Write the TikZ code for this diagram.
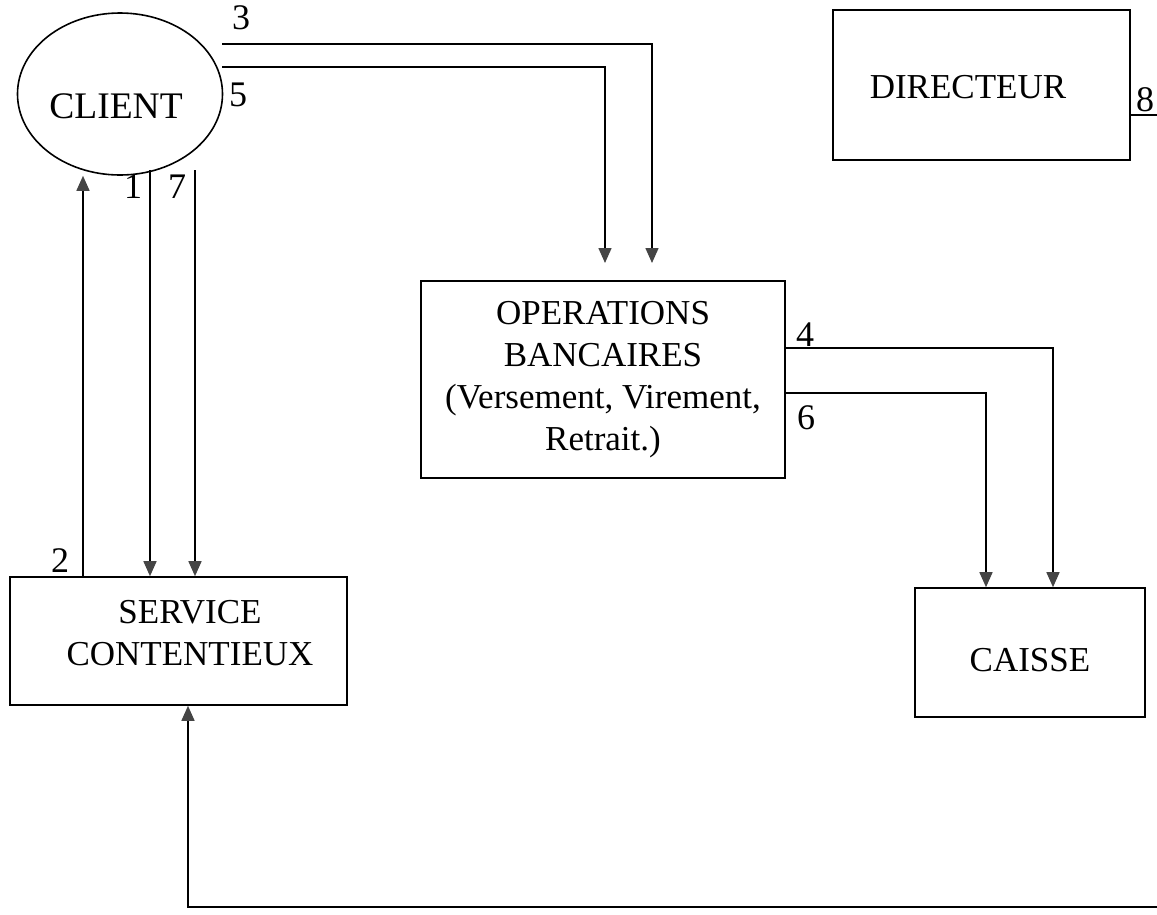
\documentclass[tikz,border=0pt]{standalone}
\usepackage{fontspec}
\setmainfont{Liberation Serif}
\usetikzlibrary{arrows.meta,shapes.geometric}
\definecolor{tipgray}{HTML}{454545}
\begin{document}
\begin{tikzpicture}[x=1pt,y=-1pt,
  every node/.style={font=\fontsize{35}{42}\selectfont},
  box/.style={draw,line width=1.6pt,rectangle,inner sep=0pt},
  txt/.style={inner sep=0pt,align=center},
  num/.style={inner sep=0pt,font=\fontsize{36}{42}\selectfont},
  flow/.style={line width=1.5pt,-{Triangle[width=13pt,length=15pt,color=tipgray]}},
  link/.style={line width=1.5pt}]
\useasboundingbox (0,0) rectangle (1157,914);

% entities
\node[draw,ellipse,line width=1.6pt,minimum width=205pt,minimum height=162pt] (client) at (120,94) {};
\node[txt,font=\fontsize{37.5}{42}\selectfont] (clientT) at (116,106) {CLIENT};

\node[box,minimum width=297pt,minimum height=150pt] (dir) at (981.5,85) {};
\node[txt] (dirT) at (968,87) {DIRECTEUR};

\node[box,minimum width=364pt,minimum height=197pt,align=center] (ops) at (603,379.5)
  {OPERATIONS\\BANCAIRES\\(Versement, Virement,\\Retrait.)};

\node[box,minimum width=337pt,minimum height=128pt] (serv) at (178.5,641) {};
\node[txt] (servT) at (190,633) {SERVICE\\CONTENTIEUX};

\node[box,minimum width=230pt,minimum height=129pt] (caisse) at (1030,652.5) {};
\node[txt] (caisseT) at (1030,660) {CAISSE};

% free ends of the flows
\coordinate (c3) at (222,44);
\coordinate (c5) at (222,67);
\coordinate (e3) at (652,263);
\coordinate (e5) at (605,263);
\coordinate (c1) at (150,170);
\coordinate (c7) at (195,170);
\coordinate (e8) at (1157,115);
\coordinate (b0) at (1157,907);
\coordinate (b1) at (188,907);

% flows
\draw[flow] (c3) -| (e3);
\draw[flow] (c5) -| (e5);
\draw[flow] (c1) -- ([xshift=-28.5pt]serv.north);
\draw[flow] (c7) -- ([xshift=16.5pt]serv.north);
\draw[flow] ([xshift=-95.5pt]serv.north) -- ([xshift=-95.5pt]serv.north |- client.south);
\draw[flow] ([yshift=31.5pt]ops.east) -| ([xshift=23pt]caisse.north);
\draw[flow] ([yshift=-13.5pt]ops.east) -| ([xshift=-44pt]caisse.north);
\draw[link] ([yshift=-30pt]dir.east) -- (e8);
\draw[flow] (b0) -- (b1) -- ([xshift=9.5pt]serv.south);

% flow numbers
\node[num] (n3) at (241,18) {3};
\node[num] (n5) at (238,95) {5};
\node[num] (n1) at (133,187) {1};
\node[num] (n7) at (177,187) {7};
\node[num] (n2) at (60,561) {2};
\node[num] (n4) at (805,335) {4};
\node[num] (n6) at (806,418) {6};
\node[num] (n8) at (1145,100) {8};
\end{tikzpicture}
\end{document}
